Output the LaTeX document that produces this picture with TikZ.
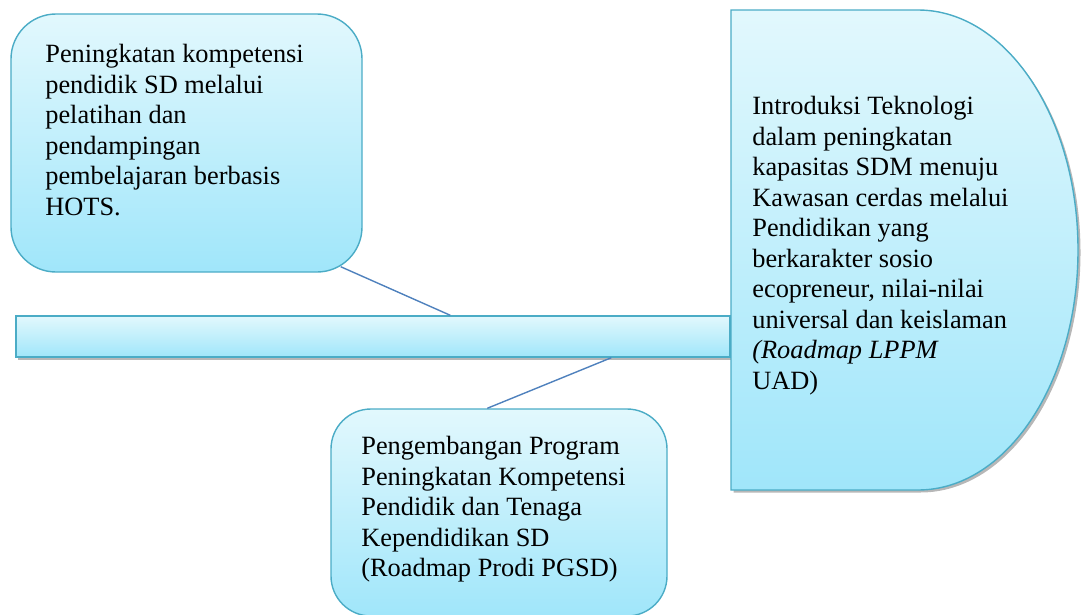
\documentclass[tikz,border=0pt]{standalone}
\usepackage{fontspec}
\setmainfont{Liberation Serif}
\definecolor{HotsAqua}{RGB}{75,172,198}
\definecolor{HotsTop}{RGB}{226,248,253}
\definecolor{HotsBottom}{RGB}{160,230,250}
\definecolor{HotsLine}{RGB}{79,129,189}
\usetikzlibrary{calc, shadows}

\begin{document}
\begin{tikzpicture}[x=0.2mm, y=-0.2mm,
		kotak/.style={draw=HotsAqua, line width=0.8pt, top color=HotsTop, bottom color=HotsBottom},
		isi/.style={anchor=north west, inner sep=0pt, align=left, font=\fontsize{15}{17.35}\selectfont},
		garis/.style={draw=HotsLine, line width=0.8pt},
		bayang/.style={drop shadow={shadow xshift=0.5mm, shadow yshift=-0.5mm, fill=gray!80, opacity=0.7}}]
	\useasboundingbox (0,0) rectangle (1081,614);

	% Kotak kiri atas
	\node[kotak, rounded corners=9mm, minimum width=70.2mm, minimum height=51.6mm] (pelatihan) at (186.5,143) {};
	\node[isi] (txtpelatihan) at (45,44) {Peningkatan kompetensi\\pendidik SD melalui\\pelatihan dan\\pendampingan\\pembelajaran berbasis\\HOTS.};

	% Batang tengah
	\node[kotak, bayang, minimum width=142.8mm, minimum height=8.2mm] (batang) at (373,336.5) {};

	% Kotak bawah
	\node[kotak, rounded corners=8mm, minimum width=67.2mm, minimum height=41.4mm] (prodi) at (499,512.5) {};
	\node[isi] (txtprodi) at (361,436) {Pengembangan Program\\Peningkatan Kompetensi\\Pendidik dan Tenaga\\Kependidikan SD\\(Roadmap Prodi PGSD)};

	% Kotak kanan (setengah lingkaran)
	\draw[kotak, bayang] (731,10) coordinate (lppm) -- (918,10) arc[start angle=90, end angle=-90, x radius=160, y radius=-240] -- (731,490) -- cycle;
	\node[isi] (txtlppm) at (752,96) {Introduksi Teknologi\\dalam peningkatan\\kapasitas SDM menuju\\Kawasan cerdas melalui\\Pendidikan yang\\berkarakter sosio\\ecopreneur, nilai-nilai\\universal dan keislaman\\\textit{(Roadmap LPPM}\\UAD)};

	% Garis penghubung
	\draw[garis] ($(pelatihan.south east)+(-22,-6)$) -- ($(batang.north west)+(435,0)$);
	\draw[garis] ($(batang.south west)+(596,0)$) -- ($(prodi.north west)+(157,0)$);
\end{tikzpicture}
\end{document}
